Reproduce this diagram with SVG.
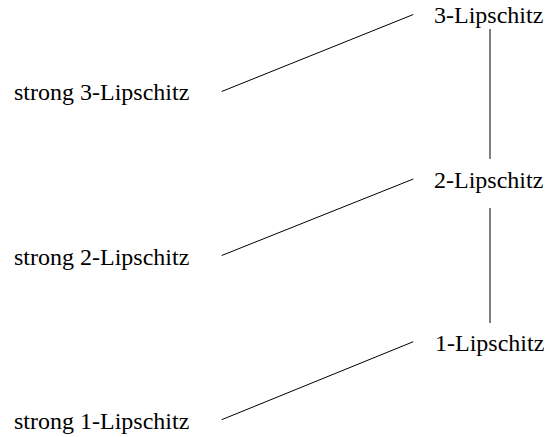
<svg xmlns="http://www.w3.org/2000/svg" width="550" height="437" viewBox="0 0 550 437">
<style>
text { font-size: 24px; fill: #000; }
.b { font-family: 'Liberation Serif', serif; }
.edge { stroke: #000; stroke-width: 1; fill: none; }
</style>
<rect width="550" height="437" fill="#fff"/>
<g id="connectors">
<line class="edge" x1="221.7" y1="91.5" x2="413.3" y2="14.5"/>
<line class="edge" x1="221.7" y1="255.5" x2="413.3" y2="179"/>
<line class="edge" x1="221.7" y1="419.7" x2="413.3" y2="341.7"/>
<line class="edge" x1="490" y1="29" x2="490" y2="159"/>
<line class="edge" x1="490" y1="208" x2="490" y2="323"/>
</g>
<g id="l3"><text class="b" x="434" y="23">3-Lipschitz</text></g>
<g id="l2"><text class="b" x="434" y="188.3">2-Lipschitz</text></g>
<g id="l1"><text class="b" x="435" y="351">1-Lipschitz</text></g>
<g id="s3"><text class="b" x="14" y="100">strong 3-Lipschitz</text></g>
<g id="s2"><text class="b" x="14" y="265">strong 2-Lipschitz</text></g>
<g id="s1"><text class="b" x="14" y="428.7">strong 1-Lipschitz</text></g>
</svg>
